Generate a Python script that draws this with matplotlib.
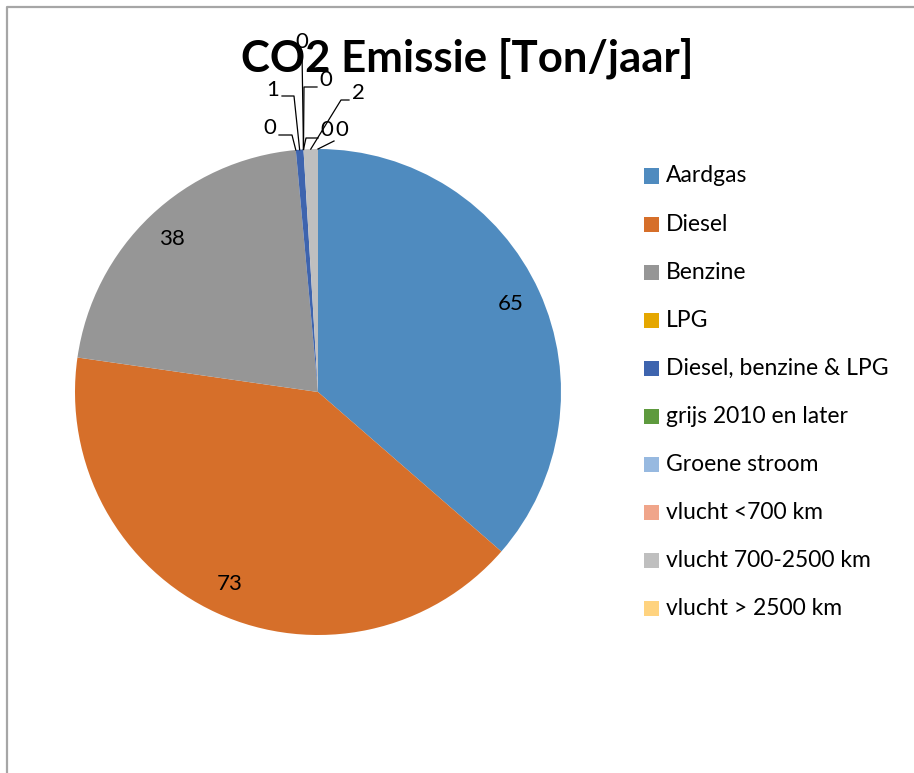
import numpy as np
import matplotlib
matplotlib.use("Agg")
import matplotlib.pyplot as plt
from matplotlib.lines import Line2D
from matplotlib.patches import Rectangle

plt.rcParams['font.family'] = ['Lato', 'DejaVu Sans']

# data
categories = ['Aardgas', 'Diesel', 'Benzine', 'LPG', 'Diesel, benzine & LPG',
              'grijs 2010 en later', 'Groene stroom', 'vlucht <700 km',
              'vlucht 700-2500 km', 'vlucht > 2500 km']
values = [65, 73, 38, 0, 0.9, 0, 0, 0, 1.7, 0]
colors = ['#4F8BBF', '#D66F2A', '#969696', '#E5A700', '#3E64AE',
          '#5E9A3E', '#97B9E0', '#F0A58A', '#BFBFBF', '#FFD37F']

W, H = 914, 773
CX, CY, R = 318, 392, 243   # pie centre / radius in pixels


def px(x, y):
    # pixel position -> data coords of pie axes
    return ((x - CX) / R, (CY - y) / R)


fig = plt.figure(figsize=(W / 100, H / 100), dpi=100)
ax = fig.add_axes([(CX - R) / W, (H - CY - R) / H, 2 * R / W, 2 * R / H])
wedges, _ = ax.pie(values, colors=colors, startangle=90, counterclock=False,
                   radius=1, wedgeprops=dict(linewidth=0))
ax.set_xlim(-1, 1)
ax.set_ylim(-1, 1)
ax.set_aspect('equal')
ax.axis('off')

# labels inside the big slices
for w, v in zip(wedges[:3], values[:3]):
    mid = np.deg2rad((w.theta1 + w.theta2) / 2)
    ax.text(0.87 * np.cos(mid), 0.87 * np.sin(mid), f'{v:.0f}',
            ha='center', va='center', fontsize=16, color='#000000')

# small slices: text pos, elbow pos (pixels)
small = {
    3: ((270, 128), (292, 135)),
    4: ((273, 90), (294, 96)),
    5: ((302, 42), (302, 52)),
    6: ((326, 80), (304, 87)),
    7: ((327, 130), (306, 138)),
    8: ((358, 93), (341, 100)),
    9: ((342, 130), (334, 141)),
}
for i, (tpos, elbow) in small.items():
    w = wedges[i]
    mid = np.deg2rad((w.theta1 + w.theta2) / 2)
    ex, ey = np.cos(mid), np.sin(mid)
    bx, by = px(*elbow)
    tx, ty = px(*tpos)
    if i in (5, 9):
        xs, ys = [ex, bx], [ey, by]
    elif tpos[0] < elbow[0]:
        xs, ys = [ex, bx, px(tpos[0] + 9, 0)[0]], [ey, by, by]
    else:
        xs, ys = [ex, bx, px(tpos[0] - 9, 0)[0]], [ey, by, by]
    ax.plot(xs, ys, color='#000000', lw=0.9, clip_on=False)
    ax.text(tx, ty, f'{values[i]:.0f}', ha='center', va='center',
            fontsize=16, color='#000000')

fig.text(467 / W, 1 - 58 / H, 'CO2 Emissie [Ton/jaar]', ha='center',
         va='center', fontsize=31.5, fontweight='bold')

# legend
for k, (lab, c) in enumerate(zip(categories, colors)):
    yc = 176 + 48.1 * k
    fig.add_artist(Rectangle((644 / W, 1 - (yc + 7.5) / H), 15 / W, 15 / H,
                             facecolor=c, edgecolor='none',
                             transform=fig.transFigure))
    fig.text(666 / W, 1 - yc / H, lab, ha='left', va='center', fontsize=16.5)

# chart border (top and left)
fig.add_artist(Line2D([7 / W, 7 / W, 1], [0, 1 - 7 / H, 1 - 7 / H],
                      color='#A6A6A6', lw=1.6, transform=fig.transFigure))

fig.savefig('out.png', dpi=100)
